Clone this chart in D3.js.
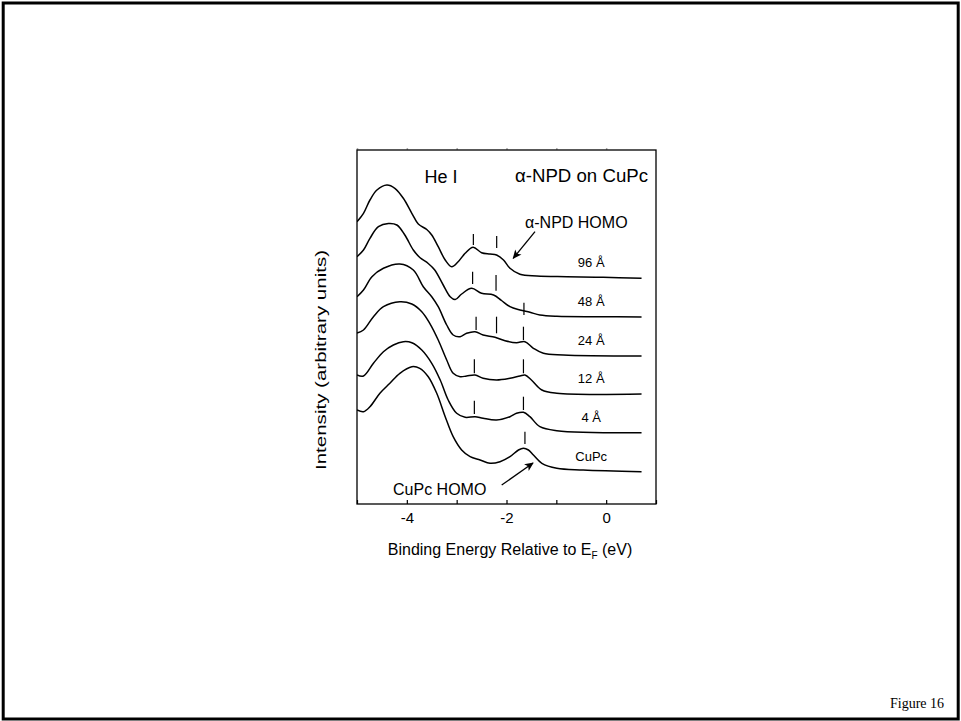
<!DOCTYPE html>
<html><head><meta charset="utf-8">
<script src="https://cdn.jsdelivr.net/npm/d3@7"></script>
<style>
html,body{margin:0;padding:0;background:#fff;}
svg{display:block;}
text{font-family:"Liberation Sans", Arial, sans-serif;fill:#000;}
</style></head><body>
<svg id="chart" width="961" height="721"></svg>
<script>
// ---------------- data (binding energy in eV, intensity in arbitrary units, stacked) -------------
const seriesLabels = ["96 Å", "48 Å", "24 Å", "12 Å", "4 Å", "CuPc"];

const energy96 = [-5.00,-4.87,-4.74,-4.60,-4.40,-4.24,-4.07,-3.90,-3.77,-3.60,-3.50,-3.37,-3.23,-3.10,-2.97,-2.83,-2.67,-2.50,-2.33,-2.20,-2.06,-1.93,-1.73,-1.39,-0.79,-0.06,0.71];
const intensity96 = [282.3,290.7,304,314,319,315.7,305.7,290.7,280,274.5,269,257.3,244,237.3,242.3,250.7,256.7,251.3,250,249,244,235.7,229.7,228,227.3,226.7,225.7];

const energy48 = [-5.00,-4.87,-4.74,-4.57,-4.37,-4.20,-4.04,-3.87,-3.74,-3.57,-3.44,-3.27,-3.13,-3.03,-2.90,-2.70,-2.50,-2.26,-2.10,-1.93,-1.73,-1.53,-1.33,-0.99,-0.12,0.71];
const intensity48 = [247.3,254,265.7,277.3,280.5,279,269,254,246.5,240.5,234,219,207.3,204.5,210,215.7,210.7,209,203.5,197.3,194,191.7,189,187.7,187.3,187];

const energy24 = [-5.00,-4.87,-4.70,-4.47,-4.14,-3.87,-3.67,-3.50,-3.37,-3.20,-3.07,-2.93,-2.80,-2.63,-2.47,-2.23,-2.03,-1.80,-1.63,-1.46,-1.26,-0.86,0.71];
const intensity24 = [207.3,214,227.3,235.7,240,234,217.3,207.3,197.3,179,169,167.3,170.7,172.3,169,166.7,163.3,161.3,162.3,155.7,150.7,149,148];

const energy12 = [-5.00,-4.87,-4.67,-4.47,-4.14,-3.90,-3.70,-3.54,-3.37,-3.20,-3.07,-2.93,-2.80,-2.63,-2.47,-2.20,-1.93,-1.73,-1.63,-1.50,-1.29,-0.99,0.71];
const intensity12 = [171,174,187.3,197.3,202.3,200,192.3,180.7,164,144,130.7,127.3,128,129,125.7,124,125.7,128,129,124,114,110.7,110];

const energy4 = [-5.00,-4.87,-4.67,-4.47,-4.27,-4.07,-3.90,-3.70,-3.50,-3.33,-3.17,-3.00,-2.83,-2.63,-2.47,-2.20,-1.93,-1.80,-1.66,-1.53,-1.33,-0.99,0.71];
const intensity4 = [129,128,140.7,152.3,159,162.3,161.3,154,140.7,124,104,90.7,86.7,87.3,85.7,84,87.3,90.7,91.7,87.3,77.3,73.3,71.3];

const energyCuPc = [-5.00,-4.87,-4.74,-4.54,-4.34,-4.14,-3.90,-3.74,-3.57,-3.40,-3.23,-3.07,-2.90,-2.73,-2.53,-2.33,-2.13,-1.93,-1.76,-1.66,-1.56,-1.46,-1.29,-0.99,-0.46,0.71];
const intensityCuPc = [94,92.3,97.3,110.7,120.7,130.7,137.3,135.7,127.3,110.7,87.3,67.3,54,47.3,44,40.7,42.3,47.3,54,55.7,54,49,40.7,35.7,34,32.3];

// peak markers (vertical bars): series index, energy, top and bottom intensity
const markerSeries = [0,0, 1,1,1, 2,2,2, 3,3, 4,4, 5];
const markerEnergy = [-2.665,-2.197, -2.68,-2.21,-1.65, -2.61,-2.20,-1.66, -2.645,-1.66, -2.645,-1.66, -1.63];
const markerTop    = [270,268, 232.3,229,201.3, 187.3,187.3,177.3, 144.7,144.7, 103.3,107.3, 72.3];
const markerBottom = [259,256, 220,213.3,189, 174,170.7,164, 130.7,130.7, 90,94, 60];

// annotation arrows (energy, intensity)
const arrowLabels = ["α-NPD HOMO", "CuPc HOMO"];
const arrowFromE = [-1.428, -2.096];
const arrowFromI = [272.3, 19];
const arrowToE   = [-1.865, -1.468];
const arrowToI   = [245.7, 41];

// axis
const xDomain = [-5, 1];
const yDomain = [0, 354];
const xTickValues = [-5, -4, -3, -2, -1, 0, 1];
const xTickLabels = ["", "-4", "", "-2", "", "0", ""];

// ---------------- drawing -------------
const svg = d3.select("#chart");
const plot = {left: 357, top: 150, right: 656, bottom: 504};
const x = d3.scaleLinear().domain(xDomain).range([plot.left, plot.right]);
const y = d3.scaleLinear().domain(yDomain).range([plot.bottom, plot.top]);

// page frame
svg.append("rect").attr("x", 3.2).attr("y", 3).attr("width", 955).attr("height", 716)
  .attr("fill", "none").attr("stroke", "#000").attr("stroke-width", 3);

const defs = svg.append("defs");
defs.append("clipPath").attr("id", "clip").append("rect")
  .attr("x", plot.left).attr("y", plot.top)
  .attr("width", plot.right - plot.left).attr("height", plot.bottom - plot.top);
defs.append("marker").attr("id", "arrowhead")
  .attr("viewBox", "0 0 10 10").attr("refX", 9).attr("refY", 5)
  .attr("markerWidth", 10).attr("markerHeight", 9).attr("markerUnits", "userSpaceOnUse")
  .attr("orient", "auto")
  .append("path").attr("d", "M0,0.5 L10,5 L0,9.5 L2.5,5 Z").attr("fill", "#000");

// top ticks (faint)
const topAxis = d3.axisTop(x).tickValues(xTickValues.filter(v => v < 1)).tickSize(2).tickFormat("");
const gTop = svg.append("g").attr("transform", `translate(0,${plot.top})`).call(topAxis);
gTop.select(".domain").remove();
gTop.selectAll("line").attr("stroke", "#aaa").attr("stroke-width", 1.5);

// bottom axis, inward ticks
const bottomAxis = d3.axisBottom(x).tickValues(xTickValues)
  .tickFormat((d, i) => xTickLabels[i]).tickSizeInner(-4).tickSizeOuter(0).tickPadding(8);
const gBot = svg.append("g").attr("transform", `translate(0,${plot.bottom})`).call(bottomAxis);
gBot.select(".domain").remove();
gBot.attr("font-family", "Liberation Sans, Arial, sans-serif").attr("font-size", 15);
gBot.selectAll("line").attr("stroke", "#000").attr("stroke-width", 1.2);
gBot.selectAll("text").attr("fill", "#000");

// plot box
svg.append("rect").attr("x", plot.left).attr("y", plot.top)
  .attr("width", plot.right - plot.left).attr("height", plot.bottom - plot.top)
  .attr("fill", "none").attr("stroke", "#000").attr("stroke-width", 1.3);

// spectra
const energies = [energy96, energy48, energy24, energy12, energy4, energyCuPc];
const intensities = [intensity96, intensity48, intensity24, intensity12, intensity4, intensityCuPc];
const series = seriesLabels.map((label, i) => ({
  label, points: energies[i].map((e, j) => [e, intensities[i][j]])
}));

const line = d3.line().x(d => x(d[0])).y(d => y(d[1])).curve(d3.curveCatmullRom.alpha(0.5));
const gCurves = svg.append("g").attr("clip-path", "url(#clip)");
gCurves.selectAll("path").data(series).join("path")
  .attr("d", d => line(d.points))
  .attr("fill", "none").attr("stroke", "#000").attr("stroke-width", 1.5)
  .attr("stroke-linejoin", "round");

// series labels
svg.append("g").selectAll("text").data(series).join("text")
  .attr("x", x(-0.3)).attr("y", d => y(d.points[d.points.length - 1][1]) - 11)
  .attr("text-anchor", "middle").attr("font-size", 13)
  .text(d => d.label);

// peak markers
svg.append("g").selectAll("line").data(markerEnergy).join("line")
  .attr("x1", d => x(d)).attr("x2", d => x(d))
  .attr("y1", (d, i) => y(markerTop[i])).attr("y2", (d, i) => y(markerBottom[i]))
  .attr("stroke", "#000").attr("stroke-width", 1.2);

// arrows
svg.append("g").selectAll("line").data(arrowLabels).join("line")
  .attr("x1", (d, i) => x(arrowFromE[i])).attr("y1", (d, i) => y(arrowFromI[i]))
  .attr("x2", (d, i) => x(arrowToE[i])).attr("y2", (d, i) => y(arrowToI[i]))
  .attr("stroke", "#000").attr("stroke-width", 1.3).attr("marker-end", "url(#arrowhead)");

// annotations
svg.append("text").attr("x", 441).attr("y", 183).attr("text-anchor", "middle")
  .attr("font-size", 18).text("He I");
svg.append("text").attr("x", 515).attr("y", 182).attr("font-size", 18)
  .attr("textLength", 133).attr("lengthAdjust", "spacingAndGlyphs").text("α-NPD on CuPc");
svg.append("text").attr("x", 525).attr("y", 228).attr("font-size", 16).text(arrowLabels[0]);
svg.append("text").attr("x", 393).attr("y", 495).attr("font-size", 16).text(arrowLabels[1]);

// axis titles
svg.append("text").attr("transform", "translate(326,360) rotate(-90)")
  .attr("text-anchor", "middle").attr("font-size", 15.5)
  .attr("textLength", 220).attr("lengthAdjust", "spacingAndGlyphs")
  .text("Intensity (arbitrary units)");
const xt = svg.append("text").attr("x", 510).attr("y", 555).attr("text-anchor", "middle").attr("font-size", 16);
xt.append("tspan").text("Binding Energy Relative to E");
xt.append("tspan").attr("font-size", 10).attr("dy", 4).text("F");
xt.append("tspan").attr("dy", -4).text(" (eV)");

// figure number
svg.append("text").attr("x", 890).attr("y", 708).attr("font-size", 14)
  .style("font-family", "'Liberation Serif', 'Times New Roman', serif").text("Figure 16");
</script>
</body></html>
